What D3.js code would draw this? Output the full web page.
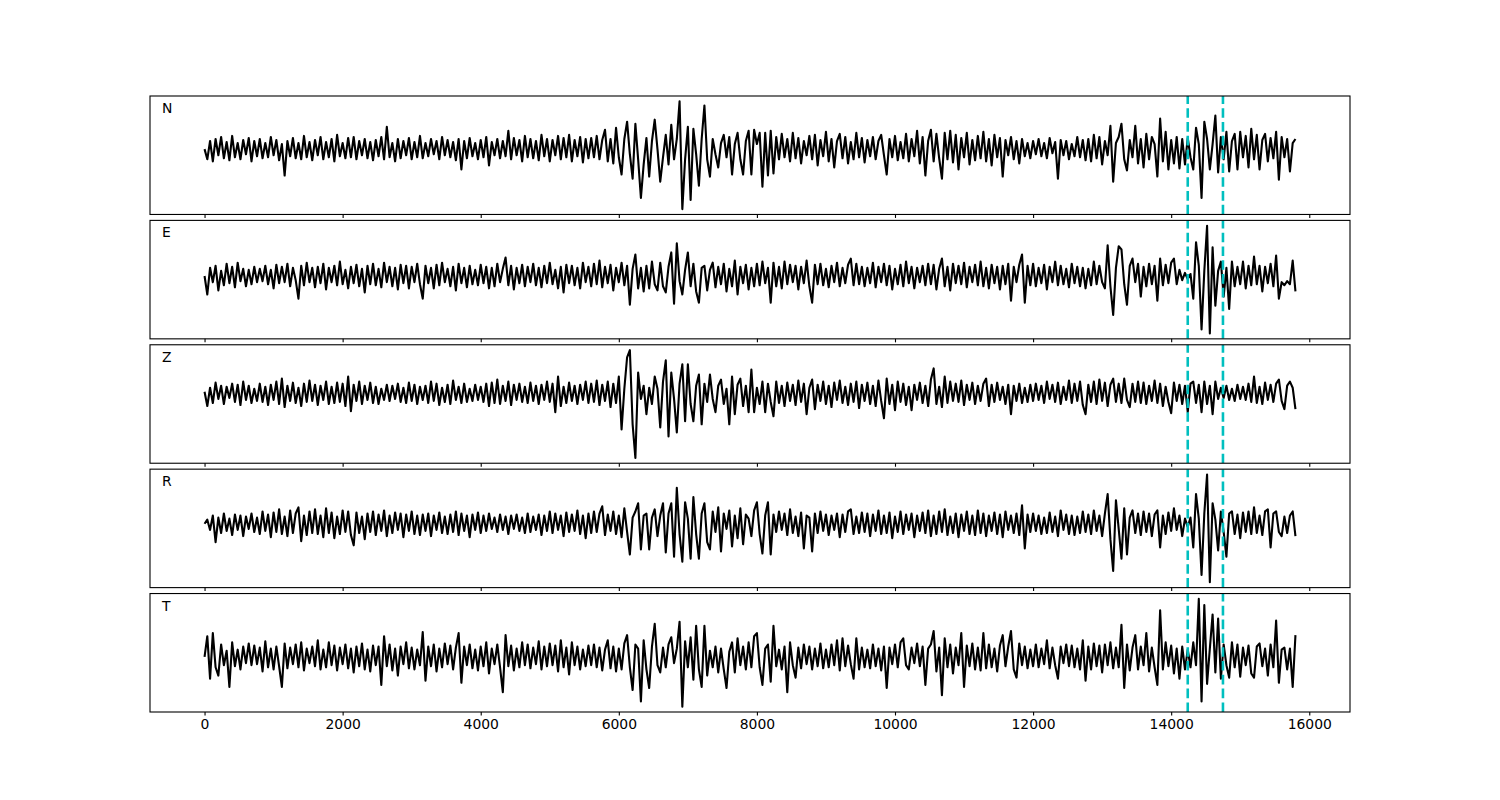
<!DOCTYPE html>
<html><head><meta charset="utf-8">
<script src="https://cdn.jsdelivr.net/npm/d3@7"></script>
<style>body{margin:0;background:#fff}svg{display:block}</style>
</head><body>
<script>
// sample spacing (x units per sample)
const dt = 40;
const channels = ["N", "E", "Z", "R", "T"];
const picks = [14240, 14750];
const xTicks = [0, 2000, 4000, 6000, 8000, 10000, 12000, 14000, 16000];

const traceN = [
0,-10,8,-12,10,-6,12,-9,7,-11,13,-8,6,-10,9,-5,11,-12,8,-7,
10,-9,6,-8,12,-6,9,-11,5,-26,8,-7,11,-9,6,-10,13,-8,7,-11,
9,-6,12,-10,7,-8,10,-12,14,-7,6,-9,11,-8,12,-10,8,-6,10,-9,
7,-11,9,-7,12,-10,22,-8,6,-12,10,-9,8,-6,11,-10,7,-8,13,-9,
6,-7,10,-5,8,-10,12,-6,9,-8,7,-11,10,-20,8,-9,11,-7,6,-10,
9,-8,12,-16,7,-6,10,-9,8,-7,18,-10,11,-6,9,-12,13,-8,10,-9,
8,-11,14,-7,10,-12,9,-6,13,-10,11,-8,14,-12,9,-7,12,-13,10,-9,
11,-8,13,-10,9,19,-12,10,-14,21,-8,-25,10,27,-5,-29,25,-10,-48,-15,
11,-27,8,29,0,-32,-8,14,-15,24,-10,10,47,-59,-10,22,-50,20,-5,-36,
10,43,-10,-27,10,-5,-18,6,14,-8,12,-25,5,16,-10,-25,8,18,-25,19,
5,16,-37,16,-26,18,-24,12,-10,15,-8,10,-12,16,-9,11,-14,8,-6,13,
-10,14,-16,9,-7,17,-12,10,-18,8,15,-9,12,-14,7,-10,16,-8,11,-13,
9,-7,12,-10,8,14,-6,-25,10,-8,13,-11,7,-9,15,-12,10,-7,18,-14,
12,-26,8,19,-12,15,-9,-29,16,-10,18,-13,14,-20,11,-8,16,-15,9,-11,
13,-9,17,-12,10,-16,14,-8,11,-27,9,-6,12,-10,8,-14,10,-7,6,-9,
8,-5,10,-7,6,-9,11,-4,7,-29,9,-6,8,-10,5,-7,12,-8,9,-11,
10,-12,14,-9,12,-15,8,-6,23,-32,6,12,25,-10,-21,9,-8,23,-14,10,
-18,15,-10,12,5,-27,30,-12,17,-20,9,-14,12,-19,10,-15,11,-8,-20,21,
5,-48,27,10,-20,5,33,-23,12,-10,17,-22,8,15,-20,17,-8,13,-18,20,
-10,14,-20,9,15,-12,11,-9,17,-30,12,-8,10,-22,6,10
];
const traceE = [
0,-18,8,-6,10,-14,5,-9,12,-7,9,-11,13,-5,7,-10,6,-8,9,-6,
7,-5,10,-8,6,-12,11,-7,9,-6,12,-10,8,-4,-22,10,-9,13,-6,8,
-11,9,-7,12,-13,8,-6,10,-9,14,-8,6,-12,9,-7,11,-10,7,-16,10,
-8,12,-9,7,-11,13,-6,9,-10,8,-13,11,-7,10,-12,9,-6,12,-8,-22,
10,-7,8,-12,11,-9,13,-6,7,-10,9,-14,12,-7,8,-11,10,-8,6,-9,
11,-7,9,-12,8,-10,12,-6,7,18,-9,10,-13,8,-7,11,-10,9,-6,12,
-9,8,-11,10,-7,13,-8,6,-12,9,-16,11,-7,10,-9,8,-12,13,-6,9,
-10,12,-8,15,-11,9,-7,11,-14,8,-6,13,-9,10,-28,7,21,-12,8,-15,
10,-12,14,-8,-14,13,-10,-16,9,23,-27,32,-5,-18,6,23,-10,12,-15,-26,
8,10,-14,6,13,-11,9,-8,12,-15,7,-10,15,-18,9,-7,11,-13,8,-10,
12,-9,14,-7,8,-26,13,-10,9,-12,14,-8,11,-6,10,-13,9,-7,15,-10,
-26,11,-8,12,-9,7,-11,10,-6,13,-10,8,-7,11,17,-9,12,-8,9,-10,
8,-7,13,-11,9,-6,12,-9,10,-13,7,-8,11,-10,14,-7,9,-12,8,-6,
10,-9,12,-8,11,-13,7,17,-10,9,-14,12,-7,10,-8,13,-11,9,-6,11,
-9,14,-10,8,-12,11,-7,9,-13,10,-8,12,-24,9,-6,11,21,-26,10,-9,
12,-10,8,-7,11,-13,9,-6,14,-9,10,-8,7,-11,12,-7,9,-10,8,-12,
7,-9,14,-8,10,-6,-12,30,-10,-38,8,29,26,-8,-28,10,17,-6,12,-20,
9,-10,12,-8,10,-24,17,-9,11,-7,13,17,-8,6,-4,3,-3,2,-22,33,
10,-52,5,49,-56,28,-29,5,14,-20,8,-32,14,-10,9,-8,14,-12,10,-9,
19,-8,10,-15,9,-7,12,-10,20,-22,-6,-9,-5,-8,15,-15
];
const traceZ = [
2,-12,6,-9,11,-5,8,-10,7,-4,10,-8,9,-11,12,-6,8,-9,5,-7,
10,-8,7,-11,9,-6,12,-10,15,-13,8,-7,11,-9,6,-12,10,-8,13,-7,
9,-11,8,-6,12,-10,7,-9,11,-8,10,-12,17,-17,9,-7,12,-10,8,-6,
11,-9,7,-10,5,-6,9,-7,8,-5,10,-8,6,-9,11,-7,9,-10,7,-6,
8,-9,12,-7,10,-11,6,-8,9,-10,13,-6,7,-9,10,-8,5,-7,9,-6,
7,-8,10,-12,11,-9,14,-10,8,-7,12,-11,9,-6,10,-8,7,-9,11,-7,
8,-10,9,-6,12,-8,10,-18,17,-12,7,-9,11,-7,8,-10,9,-6,12,-9,
10,-8,13,-11,9,-7,12,-13,10,-9,17,-35,5,36,43,-30,-63,21,-5,8,
-20,6,-10,17,5,-33,12,33,-42,21,-5,-38,10,29,-27,29,-10,-27,8,19,
-30,10,-8,19,-5,-18,8,14,-10,5,-30,17,-20,9,15,-12,8,-18,24,-18,
6,-10,12,-18,10,-8,-22,12,-9,8,-12,11,-7,9,-11,13,-8,10,-20,6,
14,-15,9,-7,12,-10,8,-13,11,-6,13,-9,7,-11,10,-8,12,-14,9,-7,
11,-10,8,-12,13,-7,-24,15,-10,9,-16,12,-8,10,-11,7,-16,9,-6,11,
-9,8,-12,14,25,-10,7,-13,17,-9,12,-7,10,-8,13,-11,9,-6,11,-10,
8,-7,10,15,-12,9,-8,11,-6,7,-10,9,-20,8,-7,10,-9,6,-8,9,
-7,10,-6,8,-9,12,-5,9,-8,11,-10,7,-6,13,-9,10,-7,12,-11,-20,
9,-8,12,-10,14,-7,11,-12,9,15,-8,10,-9,15,-6,-13,10,-8,12,-9,
11,-10,8,-7,13,-9,10,-12,7,-8,-19,11,-7,9,-10,8,-18,10,12,-9,
9,-18,12,-10,8,-20,12,-5,6,-4,8,-6,5,-7,9,-5,7,-6,10,-8,
17,-9,7,-10,11,-6,9,-8,10,14,-7,-15,8,12,6,-15
];
const traceR = [
0,4,-6,8,-18,6,-9,10,-7,5,-11,9,-6,8,-12,7,-5,10,-8,6,
-10,12,-7,9,-13,11,-8,14,-10,7,-12,13,-9,10,16,-17,8,-11,12,-9,
14,-10,8,-13,15,-9,11,-14,7,-10,13,-8,12,-11,-21,11,-9,7,-15,10,
-8,12,-11,9,-7,13,-12,8,-9,11,-6,10,-13,9,-7,12,-10,8,-11,9,
-7,10,-12,8,-6,11,-9,7,-10,9,-8,12,-11,10,-7,8,-13,9,-6,11,
-9,8,-7,10,-5,6,-8,9,-6,7,-10,8,-5,9,-7,6,-9,10,-8,7,
-6,9,-11,8,-7,12,-9,10,-6,8,-12,11,-8,9,-7,13,-10,8,-14,10,
-9,12,-8,10,17,-11,9,-7,12,-10,8,-13,15,-8,-30,6,12,20,-25,8,
10,-25,6,14,-12,8,20,-28,10,20,-32,35,-10,-37,21,5,-34,26,-10,-34,
10,20,-18,-25,12,-8,16,-27,10,-5,13,-22,8,-14,15,-20,9,5,-12,13,
21,-10,-29,8,21,-30,9,-8,12,-6,10,-11,14,-9,7,-12,11,-24,8,6,
-27,10,-9,12,-7,9,-11,8,-6,10,-13,9,-8,12,14,-10,7,-9,11,-8,
10,-12,9,-7,13,-10,8,-9,11,-14,7,-8,12,-10,9,-6,10,-13,8,-7,
11,-9,13,-12,8,-10,12,-8,14,-11,7,-9,10,-13,9,-7,12,-10,8,-11,
13,-9,10,-12,8,-7,11,-10,9,-13,12,-6,8,-9,10,-11,18,-24,9,-8,
10,-7,8,-10,6,-9,11,-8,7,-12,13,-6,9,-10,8,-11,7,-9,12,-8,
9,-10,13,-7,8,-12,10,29,-15,-46,23,-5,-34,15,-30,6,13,-9,10,-11,
12,-8,10,-12,9,13,-23,8,-10,11,-7,15,-6,8,-12,5,-3,6,-23,29,
5,-50,10,48,-57,20,4,-26,12,-8,-32,10,12,-10,9,-14,11,-8,12,-10,
16,-9,8,-11,12,14,-23,10,12,-8,-12,7,-9,8,12,-12
];
const traceT = [
0,20,-21,23,-10,-18,12,-8,6,-29,14,-9,7,-12,10,-6,13,-8,11,-7,
9,-14,15,-10,8,-12,10,-9,-29,13,-11,9,-7,12,-10,14,-13,8,-6,10,
-9,16,-12,7,-10,14,-8,11,-13,9,-7,12,-11,8,-15,10,-9,13,-12,7,
-14,11,-8,10,-27,20,-9,12,-13,8,-18,10,-7,14,-11,9,-12,7,-8,24,
-23,10,-9,12,-14,8,-10,13,-7,11,-12,9,23,-25,10,-8,12,-11,7,-13,
10,-9,14,-16,8,-7,12,-10,-34,21,-9,11,-13,8,-10,14,-8,12,-11,9,
-7,15,-12,10,-9,13,-8,11,-14,16,-10,9,-17,14,-8,10,-12,7,-9,11,
-8,12,-10,9,-13,7,16,-11,10,-14,8,-12,13,21,-10,-32,12,8,-43,16,
-12,-30,10,32,-8,-15,9,-10,12,19,-6,8,34,-48,15,-10,19,-22,30,-12,
-29,30,-18,6,-10,10,-15,8,-12,-30,5,14,-15,18,-8,10,-12,14,-10,20,
23,-10,-27,8,12,-24,30,-9,7,-12,10,-34,14,-8,-20,9,-11,12,-7,10,
-12,8,-9,13,-11,7,-10,12,-8,16,-13,18,-9,11,-7,-21,18,-12,9,-10,
7,-11,12,-9,8,-13,10,-30,9,-7,12,-10,14,18,-8,-12,9,-6,13,-9,
10,-27,8,12,25,-14,9,-37,18,-10,12,-16,9,-8,23,-29,11,-9,13,-12,
9,-13,23,-11,12,-10,8,-14,11,21,-9,10,25,-12,-20,13,-8,10,-11,7,
-9,12,-10,8,-7,16,-11,9,-8,-21,10,-6,12,-9,11,-10,8,-12,16,-23,
10,-12,13,-9,11,-15,12,-8,14,-11,9,-10,31,-30,12,-13,9,21,-12,10,
-8,23,-14,9,-10,-27,45,-12,14,-9,11,-16,8,-21,10,-12,7,-10,14,-8,
56,-43,50,-26,8,41,-15,37,-21,12,-8,-20,14,-10,12,-19,9,-8,11,-16,
-20,10,13,-9,8,-18,12,-10,35,-25,7,9,-12,8,-29,21
];

const traces = [traceN, traceE, traceZ, traceR, traceT];

const W = 1500, H = 800;
const mLeft = 150, mRight = 1350, mTop = 96, mBottom = 712;
const nP = traces.length, hspace = 0.05;
const ph = (mBottom - mTop) / (nP + (nP - 1) * hspace);
const gap = ph * hspace;
const FONT = "'DejaVu Sans', sans-serif";

const svg = d3.select("body").append("svg").attr("width", W).attr("height", H)
  .style("background", "#fff");

const nMax = d3.max(traces, t => t.length);
const tmax = (nMax - 1) * dt;
const x = d3.scaleLinear().domain([-0.05 * tmax, 1.05 * tmax]).range([mLeft, mRight]);

traces.forEach((tr, k) => {
  const y0 = mTop + k * (ph + gap);
  const [mn, mx] = d3.extent(tr);
  const pad = 0.05 * (mx - mn);
  const y = d3.scaleLinear().domain([mn - pad, mx + pad]).range([y0 + ph, y0]);
  const g = svg.append("g");

  const clipId = "clip" + k;
  g.append("clipPath").attr("id", clipId).append("rect")
    .attr("x", mLeft).attr("y", y0).attr("width", mRight - mLeft).attr("height", ph);

  const plot = g.append("g").attr("clip-path", `url(#${clipId})`);
  plot.append("path").datum(tr)
    .attr("d", d3.line().x((d, i) => x(i * dt)).y(d => y(d)))
    .attr("fill", "none").attr("stroke", "#000").attr("stroke-width", 2.1)
    .attr("stroke-linejoin", "round");

  picks.forEach(p => {
    plot.append("line")
      .attr("x1", x(p)).attr("x2", x(p))
      .attr("y1", y0 + ph).attr("y2", y0)
      .attr("stroke", "#00bfbf").attr("stroke-width", 2.6)
      .attr("stroke-dasharray", "9.6,4.2");
  });

  const axis = d3.axisBottom(x).tickValues(xTicks).tickSize(3.5).tickPadding(3.5)
    .tickFormat(k === nP - 1 ? d3.format("d") : () => "");
  const ag = g.append("g").attr("transform", `translate(0,${y0 + ph})`).call(axis);
  ag.select(".domain").remove();
  ag.selectAll(".tick line").attr("stroke", "#000").attr("stroke-width", 1.1);
  ag.selectAll(".tick text").attr("fill", "#000")
    .style("font-family", FONT).style("font-size", "13.9px");

  g.append("rect").attr("x", mLeft).attr("y", y0).attr("width", mRight - mLeft).attr("height", ph)
    .attr("fill", "none").attr("stroke", "#000").attr("stroke-width", 1.1);

  g.append("text").attr("x", mLeft + 0.01 * (mRight - mLeft)).attr("y", y0 + 17)
    .text(channels[k]).attr("fill", "#000")
    .style("font-family", FONT).style("font-size", "13.9px");
});
</script>
</body></html>
